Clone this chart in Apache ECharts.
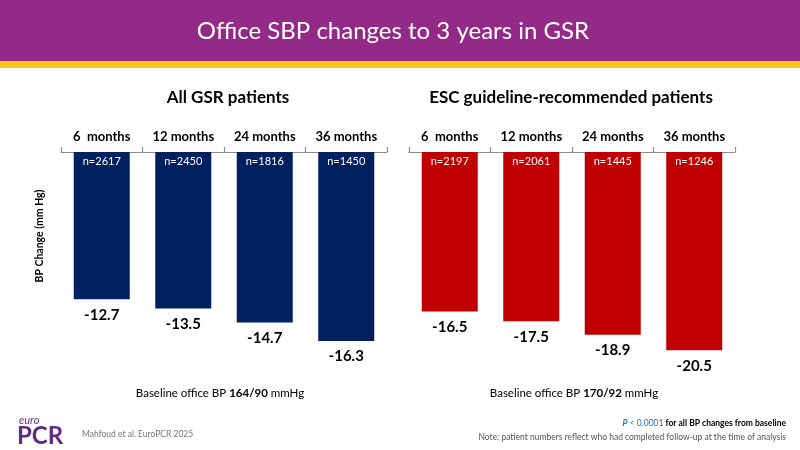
<!DOCTYPE html>
<html><head><meta charset="utf-8">
<script src="https://cdn.jsdelivr.net/npm/echarts@6/dist/echarts.min.js"></script>
<style>html,body{margin:0;padding:0;background:#fff}#c{width:800px;height:450px}</style>
</head><body><div id="c"></div>
<script>
const categories = ['6  months', '12 months', '24 months', '36 months'];
const allGsrValues = [-12.7, -13.5, -14.7, -16.3];
const allGsrN = [2617, 2450, 1816, 1450];
const escValues = [-16.5, -17.5, -18.9, -20.5];
const escN = [2197, 2061, 1445, 1246];

const F = 'Lato, "Open Sans", sans-serif';
const chart = echarts.init(document.getElementById('c'));

function xAxis(gi) {
  return {
    type: 'category', gridIndex: gi, data: categories, position: 'top',
    axisLine: {lineStyle: {color: '#8c8c8c', width: 1.2}},
    axisTick: {show: true, length: 5, inside: false, lineStyle: {color: '#8c8c8c', width: 1.2}},
    axisLabel: {color: '#000', fontWeight: 'bold', fontSize: 13, fontFamily: F, margin: 9}
  };
}
function yAxis(gi, min) {
  return {type: 'value', gridIndex: gi, min: min, max: 0, show: false, splitLine: {show: false}};
}
function barSeries(gi, vals, ns, color) {
  return [{
    type: 'bar', xAxisIndex: gi, yAxisIndex: gi, data: vals, barWidth: 56,
    itemStyle: {color: color}, silent: true,
    label: {show: true, position: 'insideTop', distance: 4, color: '#fff', fontSize: 11, fontFamily: F,
      formatter: p => 'n=' + ns[p.dataIndex]}
  }, {
    type: 'bar', xAxisIndex: gi, yAxisIndex: gi, data: vals, barWidth: 56, barGap: '-100%',
    itemStyle: {color: 'rgba(0,0,0,0)'}, silent: true,
    label: {show: true, position: 'bottom', distance: 8, color: '#000', fontWeight: 'bold', fontSize: 15, fontFamily: F,
      formatter: p => p.value.toFixed(1)}
  }];
}

chart.setOption({
  animation: false,
  grid: [
    {left: 61, top: 152, width: 326, height: 232},
    {left: 409, top: 152, width: 326, height: 232}
  ],
  xAxis: [xAxis(0), xAxis(1)],
  yAxis: [yAxis(0, -20), yAxis(1, -24)],
  series: [...barSeries(0, allGsrValues, allGsrN, '#002060'), ...barSeries(1, escValues, escN, '#C00000')],
  graphic: [
    {type: 'rect', shape: {x: 0, y: 0, width: 800, height: 61}, style: {fill: '#932A87'}},
    {type: 'rect', shape: {x: 0, y: 61, width: 800, height: 7}, style: {fill: '#F6C514'}},
    {type: 'text', x: 393, y: 31, style: {text: 'Office SBP changes to 3 years in GSR', fill: '#fff', font: '24px ' + F, textAlign: 'center', textVerticalAlign: 'middle'}},
    {type: 'text', x: 228, y: 98, style: {text: 'All GSR patients', fill: '#000', font: 'bold 17px ' + F, textAlign: 'center', textVerticalAlign: 'middle'}},
    {type: 'text', x: 571, y: 98, style: {text: 'ESC guideline-recommended patients', fill: '#000', font: 'bold 17px ' + F, textAlign: 'center', textVerticalAlign: 'middle'}},
    {type: 'text', x: 40, y: 236, rotation: Math.PI / 2, style: {text: 'BP Change (mm Hg)', fill: '#000', font: 'bold 10.5px ' + F, textAlign: 'center', textVerticalAlign: 'middle'}},
    {type: 'text', x: 220, y: 393, style: {text: '{n|Baseline office BP }{b|164/90}{n| mmHg}', textAlign: 'center', textVerticalAlign: 'middle',
      rich: {n: {fontSize: 11.5, fontFamily: F, fill: '#000'}, b: {fontSize: 11.5, fontFamily: F, fontWeight: 'bold', fill: '#000'}}}},
    {type: 'text', x: 574, y: 393, style: {text: '{n|Baseline office BP }{b|170/92}{n| mmHg}', textAlign: 'center', textVerticalAlign: 'middle',
      rich: {n: {fontSize: 11.5, fontFamily: F, fill: '#000'}, b: {fontSize: 11.5, fontFamily: F, fontWeight: 'bold', fill: '#000'}}}},
    {type: 'text', x: 786, y: 423, style: {text: '{p|P}{q| < 0.0001}{b| for all BP changes from baseline}', textAlign: 'right', textVerticalAlign: 'middle',
      rich: {p: {fontSize: 8.5, fontFamily: F, fontStyle: 'italic', fontWeight: 'bold', fill: '#1F6FC0'}, q: {fontSize: 8.5, fontFamily: F, fill: '#1F6FC0'}, b: {fontSize: 8.5, fontFamily: F, fontWeight: 'bold', fill: '#000'}}}},
    {type: 'text', x: 786, y: 437, style: {text: 'Note: patient numbers reflect who had completed follow-up at the time of analysis', fill: '#555', font: '8.5px ' + F, textAlign: 'right', textVerticalAlign: 'middle'}},
    {type: 'text', x: 82, y: 434, style: {text: 'Mahfoud et al. EuroPCR 2025', fill: '#777', font: '8.5px ' + F, textAlign: 'left', textVerticalAlign: 'middle'}},
    {type: 'text', x: 19, y: 420, style: {text: 'euro', fill: '#6B2C86', font: 'italic 11px ' + F, textAlign: 'left', textVerticalAlign: 'middle'}},
    {type: 'text', x: 17, y: 436, style: {text: 'PCR', fill: '#5E2A84', font: 'bold 24px ' + F, textAlign: 'left', textVerticalAlign: 'middle'}}
  ]
});
</script></body></html>
